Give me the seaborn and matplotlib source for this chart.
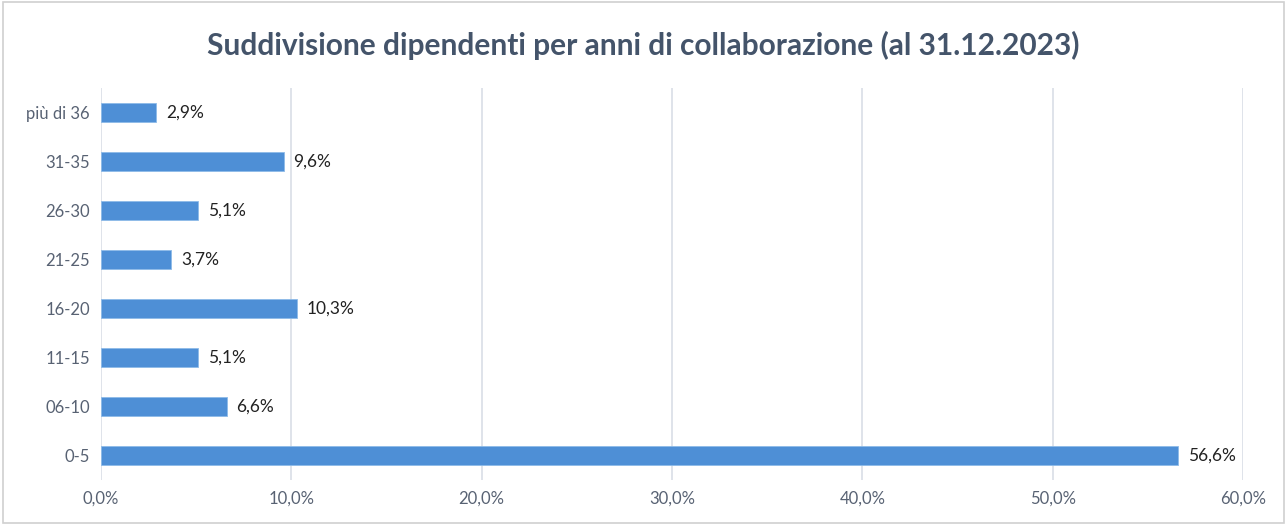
import matplotlib
matplotlib.use("Agg")
import matplotlib.pyplot as plt
import seaborn as sns
import pandas as pd
from matplotlib.ticker import FuncFormatter

# Data
categories = ["più di 36", "31-35", "26-30", "21-25", "16-20", "11-15", "06-10", "0-5"]
values = [2.9, 9.6, 5.1, 3.7, 10.3, 5.1, 6.6, 56.6]
x_ticks = [0, 10, 20, 30, 40, 50, 60]

df = pd.DataFrame({"anni": categories, "perc": values})

sns.set_style("white")
plt.rcParams["font.family"] = ["Lato", "DejaVu Sans"]

fig = plt.figure(figsize=(12.87, 5.25), dpi=100)
ax = fig.add_axes([0.0785, 0.0857, 0.8873, 0.7467])

sns.barplot(data=df, x="perc", y="anni", orient="h", color="#4E8FD6", saturation=1,
            width=0.4, edgecolor="#8DBBE8", linewidth=0.6, ax=ax, zorder=3)

# value labels
for i, v in enumerate(values):
    ax.text(v + 0.5, i, f"{v:.1f}%".replace(".", ","), va="center", ha="left",
            fontsize=12.5, color="#222222")

ax.set_xlim(0, 60)
ax.set_xticks(x_ticks)
ax.xaxis.set_major_formatter(FuncFormatter(lambda v, p: f"{v:.1f}%".replace(".", ",")))
ax.grid(axis="x", color="#D9DEE6", linewidth=1.2, zorder=0)
ax.set_axisbelow(True)
for s in ax.spines.values():
    s.set_visible(False)
ax.tick_params(axis="both", length=0, labelsize=12, colors="#586273", pad=8)
ax.set_xlabel("")
ax.set_ylabel("")

fig.text(0.5, 0.914, "Suddivisione dipendenti per anni di collaborazione (al 31.12.2023)",
         ha="center", va="center", fontsize=21.5, fontweight="bold", color="#44546A")

# light frame around the whole chart
fig.patches.append(plt.Rectangle((0.002, 0.004), 0.996, 0.992, transform=fig.transFigure,
                                 fill=False, edgecolor="#D0D0D0", linewidth=1.2))

fig.savefig("out.png", dpi=100)
